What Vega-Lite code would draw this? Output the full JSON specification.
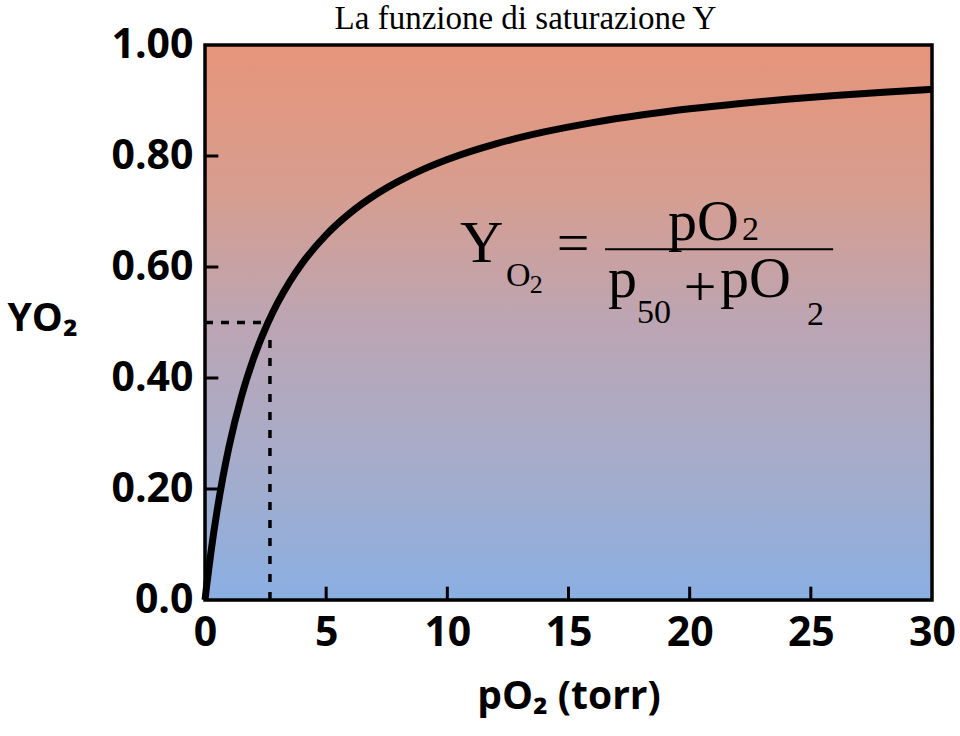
{
  "$schema": "https://vega.github.io/schema/vega-lite/v6.json",
  "width": 727,
  "height": 555,
  "autosize": {"type": "none"},
  "padding": {"left": 205, "top": 45, "right": 28, "bottom": 136},
  "background": "white",
  "config": {
    "view": {"stroke": null},
    "axis": {
      "labelFont": "Open Sans",
      "labelFontWeight": "bold",
      "labelFontSize": 41,
      "labelColor": "black",
      "titleFont": "Open Sans",
      "titleFontWeight": "bold",
      "titleFontSize": 39,
      "titleColor": "black",
      "domain": false,
      "grid": false,
      "ticks": false,
      "labelOverlap": false,
      "labelFlush": false,
      "zindex": 1
    }
  },
  "title": {
    "text": "La funzione di saturazione Y",
    "font": "Liberation Serif",
    "fontSize": 33,
    "fontWeight": "normal",
    "color": "black",
    "anchor": "middle",
    "dx": -43,
    "offset": -12
  },
  "layer": [
    {
      "data": {"values": [{}]},
      "mark": {
        "type": "rect",
        "color": {
          "gradient": "linear",
          "x1": 0, "y1": 0, "x2": 0, "y2": 1,
          "stops": [
            {"offset": 0, "color": "#E6957A"},
            {"offset": 0.25, "color": "#D89D8E"},
            {"offset": 0.5, "color": "#BCA5B3"},
            {"offset": 0.75, "color": "#A6ACCA"},
            {"offset": 1, "color": "#8AAFE2"}
          ]
        }
      },
      "encoding": {
        "x": {"datum": 0, "type": "quantitative", "scale": {"domain": [0, 30]}},
        "x2": {"datum": 30},
        "y": {"datum": 0, "type": "quantitative", "scale": {"domain": [0, 1]}},
        "y2": {"datum": 1}
      }
    },
    {
      "data": {
        "values": [
          {"p": 0, "Y": 0},
          {"p": 0.05, "Y": 0.019},
          {"p": 0.1, "Y": 0.037},
          {"p": 0.25, "Y": 0.0877},
          {"p": 0.5, "Y": 0.1613},
          {"p": 0.75, "Y": 0.2239},
          {"p": 1, "Y": 0.2778},
          {"p": 1.5, "Y": 0.3659},
          {"p": 2, "Y": 0.4348},
          {"p": 2.6, "Y": 0.5},
          {"p": 3, "Y": 0.5357},
          {"p": 3.5, "Y": 0.5738},
          {"p": 4, "Y": 0.6061},
          {"p": 5, "Y": 0.6579},
          {"p": 6, "Y": 0.6977},
          {"p": 7, "Y": 0.7292},
          {"p": 8, "Y": 0.7547},
          {"p": 9, "Y": 0.7759},
          {"p": 10, "Y": 0.7937},
          {"p": 12, "Y": 0.8219},
          {"p": 14, "Y": 0.8434},
          {"p": 16, "Y": 0.8602},
          {"p": 18, "Y": 0.8738},
          {"p": 20, "Y": 0.885},
          {"p": 22, "Y": 0.8943},
          {"p": 24, "Y": 0.9023},
          {"p": 26, "Y": 0.9091},
          {"p": 28, "Y": 0.915},
          {"p": 30, "Y": 0.9202}
        ]
      },
      "mark": {"type": "line", "color": "black", "strokeWidth": 7, "interpolate": "monotone", "strokeCap": "butt"},
      "encoding": {
        "x": {
          "field": "p", "type": "quantitative",
          "scale": {"domain": [0, 30]},
          "axis": {
            "values": [0, 5, 10, 15, 20, 25, 30],
            "labelPadding": 13,
            "title": "pO₂ (torr)",
            "titleBaseline": "alphabetic",
            "titleY": 108
          }
        },
        "y": {
          "field": "Y", "type": "quantitative",
          "scale": {"domain": [0, 1]},
          "axis": {
            "values": [0, 0.2, 0.4, 0.6, 0.8, 1],
            "labelExpr": "datum.value == 0 ? '0.0' : format(datum.value, '.2f')",
            "labelPadding": 12,
            "title": "YO₂",
            "titleAngle": 0,
            "titleAlign": "left",
            "titleBaseline": "alphabetic",
            "titleX": -198,
            "titleY": 285
          }
        }
      }
    },
    {
      "data": {"values": [{"t": 5}, {"t": 10}, {"t": 15}, {"t": 20}, {"t": 25}]},
      "mark": {"type": "rule", "color": "black", "strokeWidth": 3},
      "encoding": {
        "x": {"field": "t", "type": "quantitative"},
        "y": {"datum": 0, "type": "quantitative"},
        "y2": {"datum": 0.024}
      }
    },
    {
      "data": {"values": [{"t": 0.2}, {"t": 0.4}, {"t": 0.6}, {"t": 0.8}]},
      "mark": {"type": "rule", "color": "black", "strokeWidth": 3},
      "encoding": {
        "y": {"field": "t", "type": "quantitative"},
        "x": {"datum": 0, "type": "quantitative"},
        "x2": {"datum": 0.55}
      }
    },
    {
      "data": {"values": [{}]},
      "mark": {"type": "rule", "color": "black", "strokeWidth": 3.5, "strokeDash": [8, 8]},
      "encoding": {
        "x": {"datum": 0, "type": "quantitative"},
        "x2": {"datum": 2.48},
        "y": {"datum": 0.5, "type": "quantitative"}
      }
    },
    {
      "data": {"values": [{}]},
      "mark": {"type": "rule", "color": "black", "strokeWidth": 3.5, "strokeDash": [8, 10]},
      "encoding": {
        "x": {"datum": 2.68, "type": "quantitative"},
        "y": {"datum": 0, "type": "quantitative"},
        "y2": {"datum": 0.477}
      }
    },
    {
      "data": {"values": [{}]},
      "mark": {"type": "rule", "color": "black", "strokeWidth": 2},
      "encoding": {
        "x": {"datum": 16.51, "type": "quantitative"},
        "x2": {"datum": 25.92},
        "y": {"datum": 0.632, "type": "quantitative"}
      }
    },
    {
      "data": {"values": [{}]},
      "mark": {"type": "text", "font": "Liberation Serif", "fontSize": 60, "color": "black", "align": "left", "baseline": "alphabetic", "text": "Y"},
      "encoding": {
        "x": {"datum": 10.52, "type": "quantitative"},
        "y": {"datum": 0.609, "type": "quantitative"}
      }
    },
    {
      "data": {"values": [{}]},
      "mark": {"type": "text", "font": "Liberation Serif", "fontSize": 34, "color": "black", "align": "left", "baseline": "alphabetic", "text": "O"},
      "encoding": {
        "x": {"datum": 12.42, "type": "quantitative"},
        "y": {"datum": 0.566, "type": "quantitative"}
      }
    },
    {
      "data": {"values": [{}]},
      "mark": {"type": "text", "font": "Liberation Serif", "fontSize": 26, "color": "black", "align": "left", "baseline": "alphabetic", "text": "2"},
      "encoding": {
        "x": {"datum": 13.4, "type": "quantitative"},
        "y": {"datum": 0.553, "type": "quantitative"}
      }
    },
    {
      "data": {"values": [{}]},
      "mark": {"type": "text", "font": "Liberation Serif", "fontSize": 58, "color": "black", "align": "center", "baseline": "alphabetic", "text": "="},
      "encoding": {
        "x": {"datum": 15.19, "type": "quantitative"},
        "y": {"datum": 0.609, "type": "quantitative"}
      }
    },
    {
      "data": {"values": [{}]},
      "mark": {"type": "text", "font": "Liberation Serif", "fontSize": 58, "color": "black", "align": "left", "baseline": "alphabetic", "text": "pO"},
      "encoding": {
        "x": {"datum": 19.11, "type": "quantitative"},
        "y": {"datum": 0.6486, "type": "quantitative"}
      }
    },
    {
      "data": {"values": [{}]},
      "mark": {"type": "text", "font": "Liberation Serif", "fontSize": 34, "color": "black", "align": "left", "baseline": "alphabetic", "text": "2"},
      "encoding": {
        "x": {"datum": 22.16, "type": "quantitative"},
        "y": {"datum": 0.6486, "type": "quantitative"}
      }
    },
    {
      "data": {"values": [{}]},
      "mark": {"type": "text", "font": "Liberation Serif", "fontSize": 58, "color": "black", "align": "left", "baseline": "alphabetic", "text": "p"},
      "encoding": {
        "x": {"datum": 16.63, "type": "quantitative"},
        "y": {"datum": 0.546, "type": "quantitative"}
      }
    },
    {
      "data": {"values": [{}]},
      "mark": {"type": "text", "font": "Liberation Serif", "fontSize": 34, "color": "black", "align": "left", "baseline": "alphabetic", "text": "50"},
      "encoding": {
        "x": {"datum": 17.83, "type": "quantitative"},
        "y": {"datum": 0.499, "type": "quantitative"}
      }
    },
    {
      "data": {"values": [{}]},
      "mark": {"type": "text", "font": "Liberation Serif", "fontSize": 58, "color": "black", "align": "center", "baseline": "middle", "text": "+"},
      "encoding": {
        "x": {"datum": 20.43, "type": "quantitative"},
        "y": {"datum": 0.56, "type": "quantitative"}
      }
    },
    {
      "data": {"values": [{}]},
      "mark": {"type": "text", "font": "Liberation Serif", "fontSize": 58, "color": "black", "align": "left", "baseline": "alphabetic", "text": "pO"},
      "encoding": {
        "x": {"datum": 21.25, "type": "quantitative"},
        "y": {"datum": 0.546, "type": "quantitative"}
      }
    },
    {
      "data": {"values": [{}]},
      "mark": {"type": "text", "font": "Liberation Serif", "fontSize": 34, "color": "black", "align": "left", "baseline": "alphabetic", "text": "2"},
      "encoding": {
        "x": {"datum": 24.84, "type": "quantitative"},
        "y": {"datum": 0.495, "type": "quantitative"}
      }
    },
    {
      "data": {"values": [{}]},
      "mark": {"type": "rect", "filled": false, "color": "black", "strokeWidth": 3.5},
      "encoding": {
        "x": {"datum": 0, "type": "quantitative"},
        "x2": {"datum": 30},
        "y": {"datum": 0, "type": "quantitative"},
        "y2": {"datum": 1}
      }
    }
  ]
}
